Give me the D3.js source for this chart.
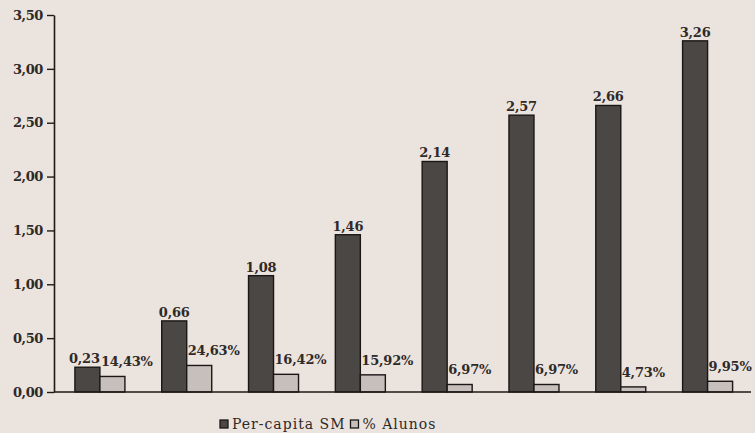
<!DOCTYPE html>
<html>
<head>
<meta charset="utf-8">
<script src="https://cdn.jsdelivr.net/npm/d3@7"></script>
<style>
  html, body { margin: 0; padding: 0; background: #ebe3dd; }
  svg { display: block; }
  text { font-family: "DejaVu Serif", "Liberation Serif", serif; fill: #2e2a28; }
</style>
</head>
<body>
<svg id="chart" width="755" height="433"></svg>
<script>
const categories = ["1", "2", "3", "4", "5", "6", "7", "8"];
const perCapitaSM = [0.23, 0.66, 1.08, 1.46, 2.14, 2.57, 2.66, 3.26];
const pctAlunos = [14.43, 24.63, 16.42, 15.92, 6.97, 6.97, 4.73, 9.95];
const yTicks = [0, 0.5, 1.0, 1.5, 2.0, 2.5, 3.0, 3.5];
const seriesNames = ["Per-capita SM", "% Alunos"];

const W = 755, H = 433;
const margin = { left: 54, right: 4, top: 15, bottom: 41 };
const svg = d3.select("#chart");

const locale = d3.formatLocale({ decimal: ",", thousands: ".", grouping: [3], currency: ["", ""] });
const f2 = locale.format(".2f");

const x = d3.scaleBand().domain(categories)
  .range([margin.left + 2.5, W - margin.right])
  .paddingInner(0.424).paddingOuter(0.212);
const sub = d3.scaleBand().domain(seriesNames).range([0, x.bandwidth()]).padding(0);
const y = d3.scaleLinear().domain([0, 3.5]).range([H - margin.bottom, margin.top]);

const labelColor = "#3f3835";

// y axis
const yAxis = d3.axisLeft(y).tickValues(yTicks).tickFormat(f2).tickSize(7).tickSizeOuter(0).tickPadding(4);
const gy = svg.append("g").attr("transform", `translate(${margin.left},0)`).call(yAxis);
gy.select(".domain").attr("stroke", "#1e1a18").attr("stroke-width", 1.6);
gy.selectAll(".tick line").attr("stroke", "#1e1a18").attr("stroke-width", 1.4);
gy.selectAll(".tick text").attr("font-size", 13).attr("font-family", "DejaVu Serif")
  .attr("fill", labelColor).attr("font-weight", "bold").attr("letter-spacing", "-0.4");

// bars
const groups = svg.append("g").selectAll("g").data(categories).join("g")
  .attr("transform", d => `translate(${x(d)},0)`);

groups.append("rect")
  .attr("x", sub(seriesNames[0]))
  .attr("width", sub.bandwidth())
  .attr("y", (d, i) => y(perCapitaSM[i]))
  .attr("height", (d, i) => y(0) - y(perCapitaSM[i]))
  .attr("fill", "#4b4745").attr("stroke", "#1a1716").attr("stroke-width", 1.4);

groups.append("rect")
  .attr("x", sub(seriesNames[1]))
  .attr("width", sub.bandwidth())
  .attr("y", (d, i) => y(pctAlunos[i] / 100))
  .attr("height", (d, i) => y(0) - y(pctAlunos[i] / 100))
  .attr("fill", "#c6bfbb").attr("stroke", "#1a1716").attr("stroke-width", 1.4);

// percent labels (start at light bar's left edge)
const pctLabels = groups.append("text")
  .attr("x", sub(seriesNames[1]) + 1)
  .attr("y", (d, i) => y(pctAlunos[i] / 100) - 10)
  .attr("font-size", 13).attr("font-weight", "bold").attr("fill", labelColor)
  .attr("letter-spacing", "-0.2")
  .attr("text-anchor", "start")
  .text((d, i) => f2(pctAlunos[i]) + "%");

// per-capita labels centered above dark bar, nudged left if overlapping percent label
groups.append("text")
  .attr("x", sub(seriesNames[0]) + sub.bandwidth() / 2)
  .attr("y", (d, i) => y(perCapitaSM[i]) - 4)
  .attr("font-size", 13).attr("font-weight", "bold").attr("fill", labelColor)
  .attr("letter-spacing", "-0.2")
  .attr("text-anchor", "middle")
  .text((d, i) => f2(perCapitaSM[i]))
  .each(function (d, i) {
    const b = this.getBBox();
    const p = pctLabels.nodes()[i].getBBox();
    const overlapY = b.y < p.y + p.height && p.y < b.y + b.height;
    if (overlapY && b.x + b.width > p.x - 1) {
      d3.select(this).attr("x", +d3.select(this).attr("x") - (b.x + b.width - p.x + 1));
    }
  });

// x baseline
svg.append("line")
  .attr("x1", margin.left).attr("x2", W - margin.right)
  .attr("y1", y(0)).attr("y2", y(0))
  .attr("stroke", "#1e1a18").attr("stroke-width", 1.6);

// legend
const leg = svg.append("g").attr("transform", "translate(220,419)");
const legColors = ["#4b4745", "#c6bfbb"];
let lx = 0;
seriesNames.forEach((name, i) => {
  leg.append("rect").attr("x", lx).attr("y", 1).attr("width", 8).attr("height", 8)
    .attr("fill", legColors[i]).attr("stroke", "#1a1716").attr("stroke-width", 1.3);
  const t = leg.append("text").attr("x", lx + 12).attr("y", 9.5)
    .attr("font-size", 14).attr("fill", "#2e2a28").attr("letter-spacing", "1")
    .text(name);
  lx += 12 + t.node().getComputedTextLength() + 5;
});
</script>
</body>
</html>
